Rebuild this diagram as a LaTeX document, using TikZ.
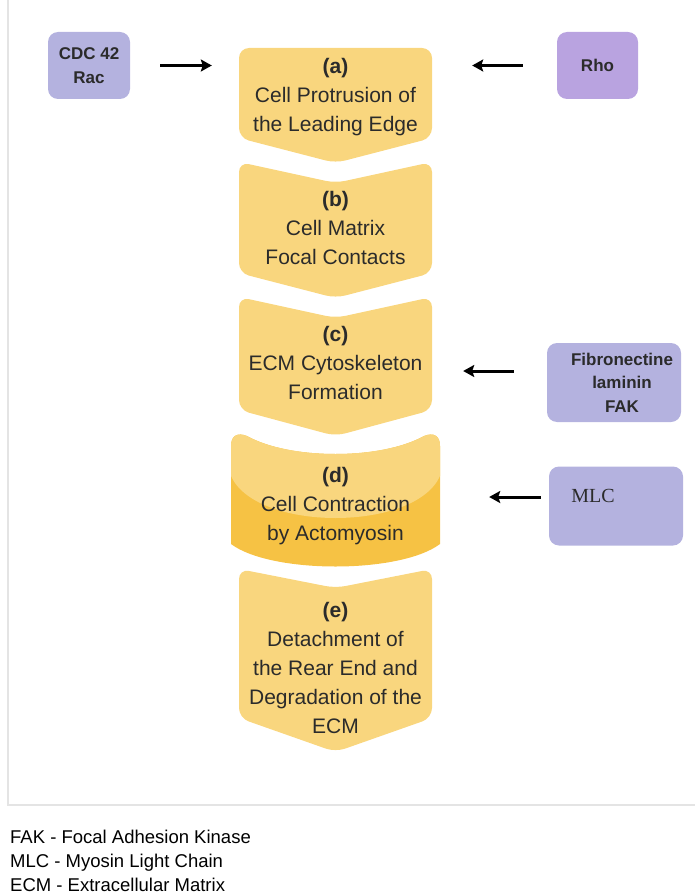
\documentclass[tikz,border=0pt]{standalone}
\usepackage{fontspec}
\setmainfont{Liberation Sans}
\newfontfamily\timesfont{Liberation Serif}
\usepackage{tikz}
\usetikzlibrary{arrows.meta}
\usetikzlibrary{calc}
\definecolor{chevlight}{HTML}{F9D67E}
\definecolor{chevdark}{HTML}{F6C244}
\definecolor{lavender}{HTML}{B4B2DF}
\definecolor{rhopurple}{HTML}{B9A3E0}
\definecolor{inktext}{HTML}{2B2B2B}
\definecolor{framegray}{HTML}{E4E4E4}
\tikzstyle{chev} = [fill=chevlight, rounded corners=10pt]
\tikzstyle{stage} = [align=center, text=inktext, inner sep=0pt,
	minimum width=193pt,
	font=\fontsize{21}{29}\selectfont]
\tikzstyle{factor} = [fill=lavender, rounded corners=10pt, inner sep=0pt]
\tikzstyle{factortext} = [align=center, text=inktext, inner sep=0pt,
	font=\fontsize{17}{23.5}\selectfont\bfseries]
\tikzstyle{legend} = [anchor=base west, inner sep=0pt, text=black,
	font=\fontsize{18.5}{24}\selectfont]
\tikzstyle{arrow} = [-{Stealth[length=11pt, width=12pt, inset=2pt]}, line width=3pt]
\newcommand{\drawchev}[4]{\fill[chev] (239,{(#1+#3)/2}) -- (239,#1) -- (335.5,#2)
	-- (432,#1) -- (432,#3) -- (335.5,#4) -- (239,#3) -- cycle}

\begin{document}
\begin{tikzpicture}[x=1pt, y=-1pt]
	\useasboundingbox (0,0) rectangle (695,896);
	\draw[framegray, line width=1.5pt] (8,0) -- (8,805) -- (695,805);
	
	\drawchev{48}{48}{138}{163};
	\drawchev{162}{183}{273}{298};
	\drawchev{297}{318}{410}{436};
	\drawchev{569}{588}{718}{752};
	
	\fill[chevdark] (231,446) .. controls (231,436) and (237,432) .. (247,436)
		.. controls (290,460) and (381,460) .. (424,436)
		.. controls (434,432) and (440,436) .. (440,446) -- (440,544)
		.. controls (400,574) and (271,574) .. (231,544) -- cycle;
	\fill[chevlight] (231,446) .. controls (231,436) and (237,432) .. (247,436)
		.. controls (290,460) and (381,460) .. (424,436)
		.. controls (434,432) and (440,436) .. (440,446) -- (440,476)
		.. controls (415,532) and (256,532) .. (231,476) -- cycle;
	
	\node[stage] (a) at (335.5,97.5) {\textbf{(a)}\\Cell Protrusion of\\the Leading Edge};
	\node[stage] (b) at (335.5,227.5) {\textbf{(b)}\\Cell Matrix\\Focal Contacts};
	\node[stage] (c) at (335.5,362.5) {\textbf{(c)}\\ECM Cytoskeleton\\Formation};
	\node[stage, minimum width=209pt] (d) at (335.5,506) {\textbf{(d)}\\Cell Contraction\\by Actomyosin};
	\node[stage] (e) at (335.5,667.5) {\textbf{(e)}\\Detachment of\\the Rear End and\\Degradation of the\\ECM};
	
	\node[factor, minimum width=82pt, minimum height=67pt] (cdc) at (89,65.5) {};
	\node[factortext] at (cdc) {CDC 42\\Rac};
	\node[factor, fill=rhopurple, minimum width=81pt, minimum height=67pt] (rho) at (597.5,65.5) {};
	\node[factortext] at (rho) {Rho};
	\node[factor, minimum width=134pt, minimum height=79pt] (fib) at (614,382.5) {};
	\node[factortext] at ([xshift=8pt]fib.center) {Fibronectine\\laminin\\FAK};
	\node[factor, minimum width=134pt, minimum height=79pt] (mlc) at (616,506) {};
	\node[text=inktext, inner sep=0pt, font=\timesfont\fontsize{20}{24}\selectfont]
		at ([shift={(-23pt,10pt)}]mlc.center) {MLC};
	
	\draw[arrow, shorten <=30pt, shorten >=27pt] (cdc.east) -- (cdc.east -| a.west);
	\draw[arrow, shorten <=34pt, shorten >=40pt] (rho.west) -- (rho.west -| a.east);
	\draw[arrow, shorten <=33pt, shorten >=31pt] ([yshift=11.5pt]fib.west) -- ([yshift=11.5pt]fib.west -| c.east);
	\draw[arrow, shorten <=8pt, shorten >=49pt] ([yshift=9pt]mlc.west) -- ([yshift=9pt]mlc.west -| d.east);
	
	\node[legend] (fakkey) at (10,843.5) {FAK - Focal Adhesion Kinase};
	\node[legend] (mlckey) at (10,867.5) {MLC - Myosin Light Chain};
	\node[legend] (ecmkey) at (10,891.5) {ECM - Extracellular Matrix};
\end{tikzpicture}
\end{document}
